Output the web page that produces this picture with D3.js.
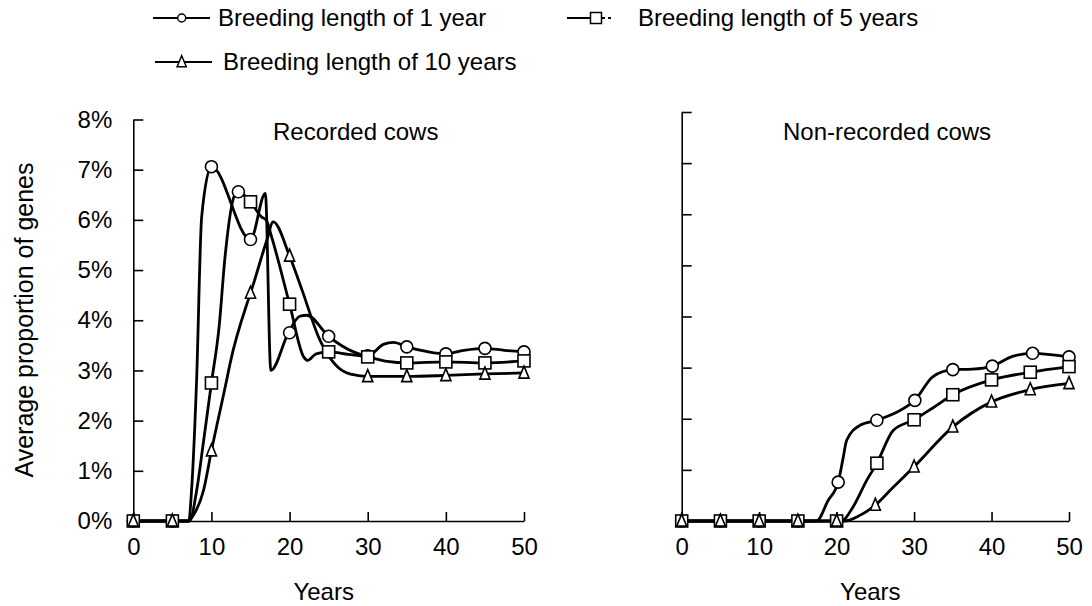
<!DOCTYPE html>
<html>
<head>
<meta charset="utf-8">
<script src="https://cdn.jsdelivr.net/npm/d3@7"></script>
<style>
  body { margin: 0; background: #fff; }
  text { font-family: "Liberation Sans", Arial, sans-serif; fill: #000; }
</style>
</head>
<body>
<div id="chart"></div>
<script>
// ---- data (years, proportion of genes in %) ----
var xTicks = [0, 10, 20, 30, 40, 50];
var yTicks = [0, 1, 2, 3, 4, 5, 6, 7, 8];
var seriesNames = ["Breeding length of 1 year", "Breeding length of 5 years", "Breeding length of 10 years"];

// recorded cows
var rec1Line = [[0,0],[5,0],[7.1,0],[7.45,0.6],[8.1,2.8],[8.75,6.06],[10,7.06],[15,5.61],[16.9,6.53],[17.6,3.0],
  [19.85,3.75],[21.3,4.08],[22.2,4.1],[25,3.68],[28.2,3.37],[30,3.29],[32,3.52],[33.3,3.56],[35,3.47],[37.5,3.38],
  [40,3.33],[42.3,3.4],[45,3.44],[47.5,3.4],[50,3.37]];
var rec1Marks = [[0,0],[5,0],[10,7.06],[13.45,6.56],[15,5.61],[20,3.75],[25,3.68],[30,3.29],[35,3.47],[40,3.33],[45,3.44],[50,3.37]];

var rec5Line = [[0,0],[5,0],[7.2,0],[8.1,0.6],[9,1.6],[10,2.75],[11,3.9],[11.7,5.2],[13,6.5],[13.5,6.55],[15,6.36],
  [16.4,6.06],[17,6.0],[17.7,5.66],[20,4.32],[21.8,3.27],[22.3,3.2],[23.4,3.33],[25,3.37],[27.5,3.32],[30,3.27],
  [32.5,3.18],[35,3.15],[40,3.17],[45,3.15],[50,3.19]];
var rec5Marks = [[0,0],[5,0],[10,2.75],[15,6.36],[20,4.32],[25,3.37],[30,3.27],[35,3.15],[40,3.17],[45,3.15],[50,3.19]];

var rec10Line = [[0,0],[5,0],[7,0],[7.7,0.12],[9,0.62],[10,1.4],[11.95,2.81],[12.4,3.15],[14.7,4.4],[15,4.54],[17.1,5.6],
  [17.9,5.96],[20,5.28],[21.6,4.6],[23.7,3.67],[26.7,3.0],[28,2.92],[30,2.88],[35,2.88],[40,2.9],[45,2.93],[50,2.95]];
var rec10Marks = [[0,0],[5,0],[10,1.4],[15,4.54],[20,5.28],[30,2.88],[35,2.88],[40,2.9],[45,2.93],[50,2.95]];

// non-recorded cows
var non1Line = [[0,0],[5,0],[10,0],[15,0],[17.4,0],[18.9,0.4],[20.2,0.76],[20.8,1.2],[21.3,1.58],[23,1.87],[25.2,1.97],
  [27.8,2.13],[30.1,2.36],[32.4,2.82],[35,2.96],[37.5,2.97],[40.1,3.03],[42.7,3.22],[45.3,3.28],[50,3.21]];
var non1Marks = [[0,0],[5,0],[10,0],[15,0],[20.2,0.76],[25.2,1.97],[30.1,2.36],[35,2.96],[40.1,3.03],[45.3,3.28],[50,3.21]];

var non5Line = [[0,0],[5,0],[10,0],[15,0],[20,0],[20.6,0],[22.1,0.27],[23.9,0.8],[25.2,1.13],[27.3,1.77],[30,1.98],
  [32.5,2.22],[35,2.47],[40,2.76],[45,2.91],[50,3.02]];
var non5Marks = [[0,0],[5,0],[10,0],[15,0],[20,0],[25.2,1.13],[30,1.98],[35,2.47],[40,2.76],[45,2.91],[50,3.02]];

var non10Line = [[0,0],[5,0],[10,0],[15,0],[20,0],[21,0],[23,0.11],[25,0.31],[27.3,0.66],[30,1.06],[35,1.84],
  [40,2.33],[45,2.57],[50,2.69]];
var non10Marks = [[0,0],[5,0],[10,0],[15,0],[20,0],[25,0.31],[30,1.06],[35,1.84],[40,2.33],[45,2.57],[50,2.69]];

var W = 1092, H = 606;
var svg = d3.select("#chart").append("svg").attr("width", W).attr("height", H);

var panels = [
  {title: "Recorded cows", titleX: 273, x0: 133.3, x1: 524, yTop: 119.5, labels: true,
   lines: [rec1Line, rec5Line, rec10Line], marks: [rec1Marks, rec5Marks, rec10Marks]},
  {title: "Non-recorded cows", titleX: 783, x0: 681.7, x1: 1069, yTop: 112, labels: false,
   lines: [non1Line, non5Line, non10Line], marks: [non1Marks, non5Marks, non10Marks]}
];
var yBottom = 521;
var shapes = ["circle", "square", "triangle"];

function drawMarker(g, shape, cx, cy, s) {
    if (shape === "circle") {
        g.append("circle").attr("cx", cx).attr("cy", cy).attr("r", s / 2);
    } else if (shape === "square") {
        g.append("rect").attr("x", cx - s / 2).attr("y", cy - s / 2).attr("width", s).attr("height", s);
    } else {
        var h = s * 0.95;
        g.append("path").attr("d", "M" + cx + "," + (cy - h * 0.6) + "L" + (cx + s * 0.42) + "," + (cy + h * 0.45) +
            "L" + (cx - s * 0.42) + "," + (cy + h * 0.45) + "Z");
    }
}

panels.forEach(function (p) {
    var x = d3.scaleLinear().domain([0, 50]).range([p.x0, p.x1]);
    var y = d3.scaleLinear().domain([0, 8]).range([yBottom, p.yTop]);

    var gy = svg.append("g").attr("transform", "translate(" + p.x0 + ",0)")
        .call(d3.axisLeft(y).tickValues(yTicks).tickSizeInner(-10).tickSizeOuter(0).tickPadding(21)
            .tickFormat(function (d) { return p.labels ? d + "%" : ""; }));
    var gx = svg.append("g").attr("transform", "translate(0," + yBottom + ")")
        .call(d3.axisBottom(x).tickValues(xTicks).tickSizeInner(-9).tickSizeOuter(0).tickPadding(17)
            .tickFormat(d3.format("d")));
    [gy, gx].forEach(function (g) {
        g.selectAll("path, line").attr("stroke", "#000").attr("stroke-width", 1.6);
        g.selectAll("text").style("font-family", "'Liberation Sans', Arial, sans-serif")
            .style("font-size", "24px").attr("fill", "#000");
    });

    svg.append("text").attr("x", p.titleX).attr("y", 132).attr("dy", "0.35em")
        .style("font-size", "24px").text(p.title);
    svg.append("text").attr("x", (p.x0 + p.x1) / 2 - 5).attr("y", 592).attr("dy", "0.35em")
        .attr("text-anchor", "middle").style("font-size", "24px").text("Years");

    var line = d3.line().x(function (d) { return x(d[0]); }).y(function (d) { return y(d[1]); })
        .curve(d3.curveMonotoneX);
    p.lines.forEach(function (data) {
        svg.append("path").datum(data).attr("d", line)
            .attr("fill", "none").attr("stroke", "#000").attr("stroke-width", 2.8)
            .attr("stroke-linejoin", "round");
    });
    p.marks.forEach(function (data, i) {
        var g = svg.append("g").attr("fill", "#fff").attr("stroke", "#000").attr("stroke-width", 1.6);
        data.forEach(function (d) { drawMarker(g, shapes[i], x(d[0]), y(d[1]), 12); });
    });
});

svg.append("text").attr("transform", "translate(24,320) rotate(-90)").attr("dy", "0.35em")
    .attr("text-anchor", "middle").style("font-size", "25px").text("Average proportion of genes");

// legend
var legendItems = [
  {name: seriesNames[0], shape: "circle", x1: 153, x2: 210, mx: 181.7, ly: 18, tx: 218},
  {name: seriesNames[1], shape: "square", x1: 567, x2: 620, mx: 596, ly: 18, tx: 638},
  {name: seriesNames[2], shape: "triangle", x1: 155, x2: 212, mx: 181.7, ly: 62, tx: 223}
];
legendItems.forEach(function (it) {
    var g = svg.append("g");
    g.append("line").attr("x1", it.x1).attr("x2", it.mx).attr("y1", it.ly).attr("y2", it.ly)
        .attr("stroke", "#000").attr("stroke-width", 2);
    g.append("line").attr("x1", it.mx).attr("x2", it.x2).attr("y1", it.ly).attr("y2", it.ly)
        .attr("stroke", "#000").attr("stroke-width", 2)
        .attr("stroke-dasharray", it.shape === "square" ? "9,3,3" : null);
    var mg = g.append("g").attr("fill", "#fff").attr("stroke", "#000").attr("stroke-width", 1.5);
    drawMarker(mg, it.shape, it.mx, it.ly, it.shape === "circle" ? 8 : 11);
    g.append("text").attr("x", it.tx).attr("y", it.ly).attr("dy", "0.35em")
        .style("font-size", "24px").text(it.name);
});
</script>
</body>
</html>
